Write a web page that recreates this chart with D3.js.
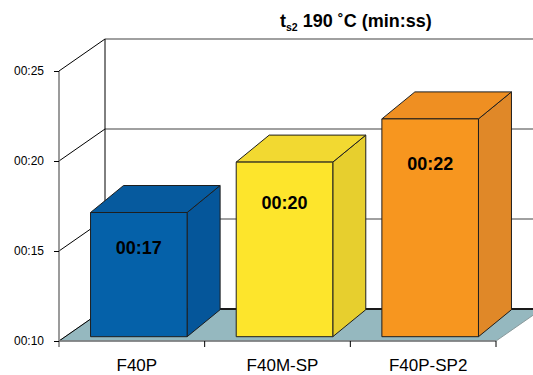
<!DOCTYPE html>
<head>
<meta charset="utf-8">
<title>ts2 190 C</title>
<script src="https://d3js.org/d3.v7.min.js"></script>
<style>
  body { margin: 0; background: #fff; }
  svg { font-family: "Liberation Sans", Arial, Helvetica, sans-serif; }
</style>
</head>
<body>
<svg width="533" height="375"></svg>
<script>
// data (seconds)
var categories = ["F40P", "F40M-SP", "F40P-SP2"];
var values = [16.9, 19.7, 22.1];
var barColors = [
  { front: "#0561a9", top: "#065a9e", side: "#05569a" },
  { front: "#fde52c", top: "#f2d931", side: "#e7cf2e" },
  { front: "#f7961f", top: "#ef8f22", side: "#e08828" }
];
var yTicks = [10, 15, 20, 25];

var svg = d3.select("svg");

// front plane of the box  (note: "top" is taken by window.top)
var plotL = 59, plotR = 496, plotB = 341, plotT = 71;
var depth = { x: 46, y: -32 };        // wall depth
var barFront = { x: 7, y: -4.3 };     // bars sit a bit back on the floor
var barDepth = { x: 33, y: -27 };

var y = d3.scaleLinear().domain([10, 25]).range([plotB, plotT]);
var x = d3.scaleBand().domain(categories).range([plotL, plotR]).paddingInner(0);
var xb = d3.scaleBand().domain(categories).range([plotL, plotR])
    .paddingInner(0.337).paddingOuter(0.1685);

function fmt(v) { return "00:" + d3.format("02d")(Math.round(v)); }
function pts(a) { return a.map(function(p) { return p[0] + "," + p[1]; }).join(" "); }

var grid = svg.append("g");

// floor
grid.append("polygon")
    .attr("points", pts([[plotL, plotB], [plotR, plotB], [plotR + depth.x, plotB + depth.y], [plotL + depth.x, plotB + depth.y]]))
    .attr("fill", "#95b8bf")
    .attr("stroke", "#8a9a9c")
    .attr("stroke-width", 1);

// back wall gridlines + side wall diagonals
yTicks.forEach(function(t) {
  var yy = y(t);
  grid.append("line")
      .attr("x1", plotL + depth.x).attr("x2", plotR + depth.x)
      .attr("y1", yy + depth.y).attr("y2", yy + depth.y)
      .attr("stroke", t == 10 ? "#1a1a1a" : "#808080")
      .attr("stroke-width", t == 10 ? 2 : 1.5);
  grid.append("line")
      .attr("x1", plotL).attr("x2", plotL + depth.x)
      .attr("y1", yy).attr("y2", yy + depth.y)
      .attr("stroke", "#000").attr("stroke-width", 1);
});

// back vertical edge
grid.append("line")
    .attr("x1", plotL + depth.x).attr("x2", plotL + depth.x)
    .attr("y1", y(25) + depth.y).attr("y2", y(10) + depth.y)
    .attr("stroke", "#000").attr("stroke-width", 1);

// front value axis
grid.append("line")
    .attr("x1", plotL).attr("x2", plotL)
    .attr("y1", y(25)).attr("y2", plotB + 6)
    .attr("stroke", "#7a7a7a").attr("stroke-width", 1.5);
grid.append("line")
    .attr("x1", plotL).attr("x2", plotR)
    .attr("y1", plotB).attr("y2", plotB)
    .attr("stroke", "#7a7a7a").attr("stroke-width", 1.5);

var yAxis = svg.append("g")
    .attr("transform", "translate(" + plotL + ",0)")
    .call(d3.axisLeft(y).tickValues(yTicks).tickFormat(fmt).tickSize(5).tickPadding(10));
yAxis.select(".domain").remove();
yAxis.selectAll("text").attr("font-size", 12).attr("fill", "#000")
    .attr("font-family", "Liberation Sans, Arial, sans-serif");
yAxis.selectAll("line").attr("stroke", "#000");

// category ticks
svg.append("g").selectAll("line")
    .data(categories.slice(1).concat(["end"]))
    .enter().append("line")
      .attr("x1", function(d) { return d == "end" ? plotR : x(d); })
      .attr("x2", function(d) { return d == "end" ? plotR : x(d); })
      .attr("y1", plotB).attr("y2", plotB + 6)
      .attr("stroke", "#000").attr("stroke-width", 1);

// category labels
svg.append("g").selectAll("text")
    .data(categories)
    .enter().append("text")
      .attr("x", function(d) { return x(d) + x.bandwidth() / 2 + 5; })
      .attr("y", 371)
      .attr("text-anchor", "middle")
      .attr("font-size", 17)
      .text(function(d) { return d; });

// bars (front, top, side)
var bars = svg.append("g").selectAll("g")
    .data(values)
    .enter().append("g");

bars.each(function(v, i) {
  var g = d3.select(this);
  var x0 = xb(categories[i]) + barFront.x, x1 = x0 + xb.bandwidth();
  var y0 = y(10) + barFront.y, y1 = y(v) + barFront.y;
  var c = barColors[i];
  var dx = barDepth.x, dy = barDepth.y;
  g.append("polygon")
      .attr("points", pts([[x1, y1], [x1 + dx, y1 + dy], [x1 + dx, y0 + dy], [x1, y0]]))
      .attr("fill", c.side);
  g.append("polygon")
      .attr("points", pts([[x0, y1], [x0 + dx, y1 + dy], [x1 + dx, y1 + dy], [x1, y1]]))
      .attr("fill", c.top);
  g.append("rect")
      .attr("x", x0).attr("y", y1)
      .attr("width", x1 - x0).attr("height", y0 - y1)
      .attr("fill", c.front);
  g.selectAll("*")
      .attr("stroke", "#1e1e1e").attr("stroke-width", 1).attr("stroke-linejoin", "round");

  // value label
  g.append("text")
      .attr("x", (x0 + x1) / 2)
      .attr("y", y1 + 30 + 0.095 * (y0 - y1))
      .attr("text-anchor", "middle")
      .attr("font-size", 18)
      .attr("font-weight", "bold")
      .text(fmt(v));
});

// title
var title = svg.append("text")
    .attr("x", 280).attr("y", 26.5)
    .attr("font-size", 18)
    .attr("font-weight", "bold");
title.append("tspan").text("t");
title.append("tspan").attr("font-size", 10.5).attr("dy", 4).text("s2");
title.append("tspan").attr("dy", -4).text(" 190 ˚C (min:ss)");
</script>
</body>
